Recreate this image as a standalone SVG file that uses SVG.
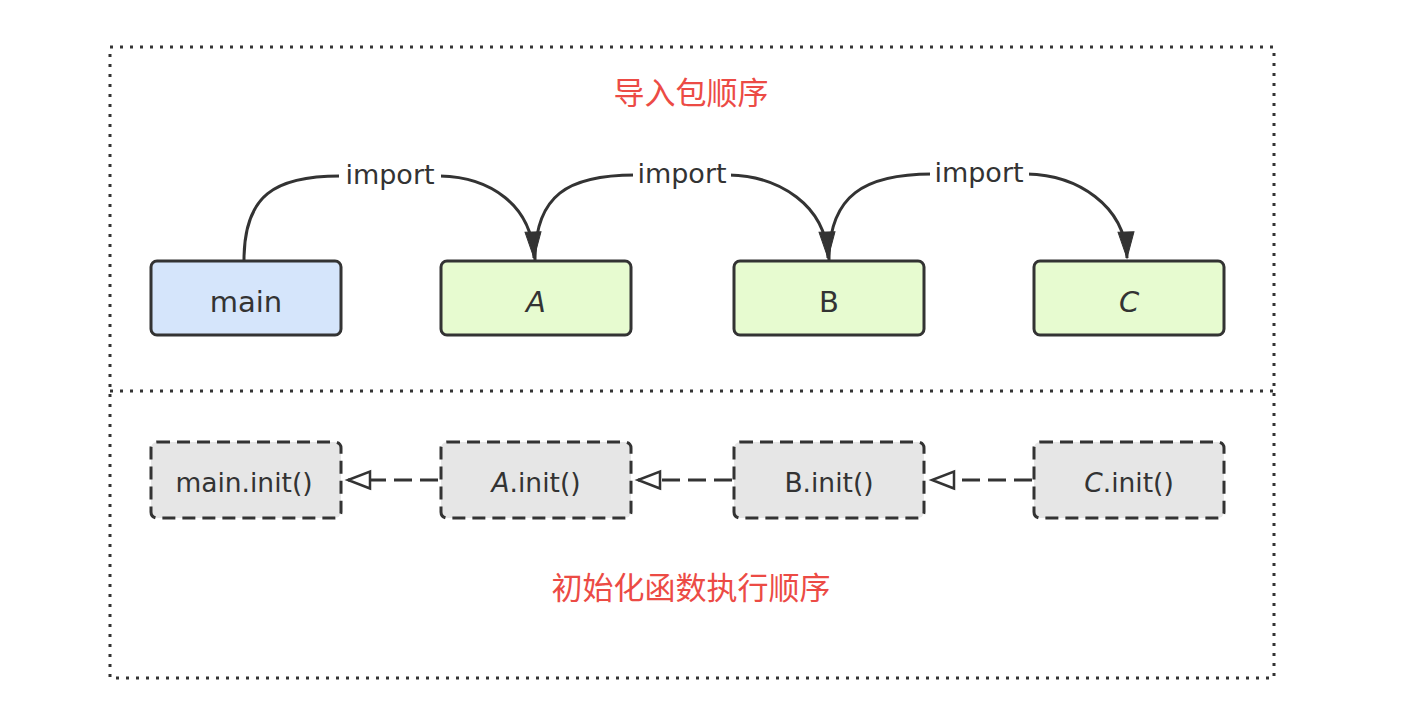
<svg xmlns="http://www.w3.org/2000/svg" width="1404" height="728" viewBox="0 0 1404 728">
  <style>
    .frame { fill: none; stroke: #333; stroke-width: 3; stroke-dasharray: 3 7; }
    .pkg { stroke: #333; stroke-width: 3; }
    .init { fill: #e6e6e6; stroke: #333; stroke-width: 3; stroke-dasharray: 13 7; }
    .lbl { font-family: "DejaVu Sans", "Liberation Sans", sans-serif; fill: #333; text-anchor: middle; }
    .title { font-family: "Noto Sans CJK SC", "Noto Sans", sans-serif; fill: #ec4b45; text-anchor: middle; font-size: 31px; }
    .edge { fill: none; stroke: #333; stroke-width: 3; }
    .dep { fill: none; stroke: #333; stroke-width: 3; stroke-dasharray: 18 8; }
    .bg { fill: #fff; }
  </style>
  <defs>
    <marker id="solidArrow" markerUnits="userSpaceOnUse" markerWidth="28" markerHeight="18" refX="26" refY="8" orient="auto" overflow="visible">
      <path d="M0,0 L26,8 L0,16 z" fill="#333" stroke="#333" stroke-width="1"/>
    </marker>
    <marker id="openArrow" markerUnits="userSpaceOnUse" markerWidth="26" markerHeight="20" refX="22" refY="8.5" orient="auto" overflow="visible">
      <path d="M0,0 L22,8.5 L0,17 z" fill="#fff" stroke="#333" stroke-width="2.5" stroke-linejoin="miter"/>
    </marker>
  </defs>

  <rect width="1404" height="728" fill="#fff"/>

  <g id="frame">
    <rect class="frame" x="110" y="47" width="1164" height="631"/>
    <line class="frame" x1="110" y1="391" x2="1274" y2="391"/>
  </g>

  <g id="title-import">
    <text class="title" x="691" y="104">导入包顺序</text>
  </g>
  <g id="title-init">
    <text class="title" x="691" y="599">初始化函数执行顺序</text>
  </g>

  <g id="connectors">
    <path class="edge" marker-end="url(#solidArrow)" d="M244,260 C244,195 275,176 340,176 L440,176 C490,177 532,205 534,258"/>
    <path class="edge" marker-end="url(#solidArrow)" d="M535,260 C535,195 568,175 635,175 L729,175 C779,176 826,205 828,258"/>
    <path class="edge" marker-end="url(#solidArrow)" d="M829,260 C829,195 865,174 932,174 L1027,174 C1077,175 1125,205 1127,258"/>
    <rect class="bg" x="339" y="162" width="102" height="28"/>
    <text class="lbl" x="390" y="184" font-size="27">import</text>
    <rect class="bg" x="633" y="161" width="98" height="28"/>
    <text class="lbl" x="682" y="183" font-size="27">import</text>
    <rect class="bg" x="930" y="160" width="99" height="28"/>
    <text class="lbl" x="979" y="182" font-size="27">import</text>

    <path class="dep" marker-end="url(#openArrow)" d="M438,480 L348,480"/>
    <path class="dep" marker-end="url(#openArrow)" d="M732,480 L638,480"/>
    <path class="dep" marker-end="url(#openArrow)" d="M1032,480 L932,480"/>
  </g>

  <g id="node-main">
    <rect class="pkg" x="151" y="261" width="190" height="74" rx="6" fill="#d5e5fb"/>
    <text class="lbl" x="246" y="312" font-size="29">main</text>
  </g>
  <g id="node-A">
    <rect class="pkg" x="441" y="261" width="190" height="74" rx="6" fill="#e7fbd0"/>
    <text class="lbl" x="536" y="312" font-size="29" font-style="italic">A</text>
  </g>
  <g id="node-B">
    <rect class="pkg" x="734" y="261" width="190" height="74" rx="6" fill="#e7fbd0"/>
    <text class="lbl" x="829" y="312" font-size="29">B</text>
  </g>
  <g id="node-C">
    <rect class="pkg" x="1034" y="261" width="190" height="74" rx="6" fill="#e7fbd0"/>
    <text class="lbl" x="1129" y="312" font-size="29" font-style="italic">C</text>
  </g>

  <g id="node-main-init">
    <rect class="init" x="151" y="442" width="190" height="76" rx="6"/>
    <text class="lbl" x="244" y="492" font-size="26.5">main.init()</text>
  </g>
  <g id="node-A-init">
    <rect class="init" x="441" y="442" width="190" height="76" rx="6"/>
    <text class="lbl" x="536" y="492" font-size="26.5"><tspan font-style="italic">A</tspan>.init()</text>
  </g>
  <g id="node-B-init">
    <rect class="init" x="734" y="442" width="190" height="76" rx="6"/>
    <text class="lbl" x="829" y="492" font-size="26.5">B.init()</text>
  </g>
  <g id="node-C-init">
    <rect class="init" x="1034" y="442" width="190" height="76" rx="6"/>
    <text class="lbl" x="1129" y="492" font-size="26.5"><tspan font-style="italic">C</tspan>.init()</text>
  </g>
</svg>
